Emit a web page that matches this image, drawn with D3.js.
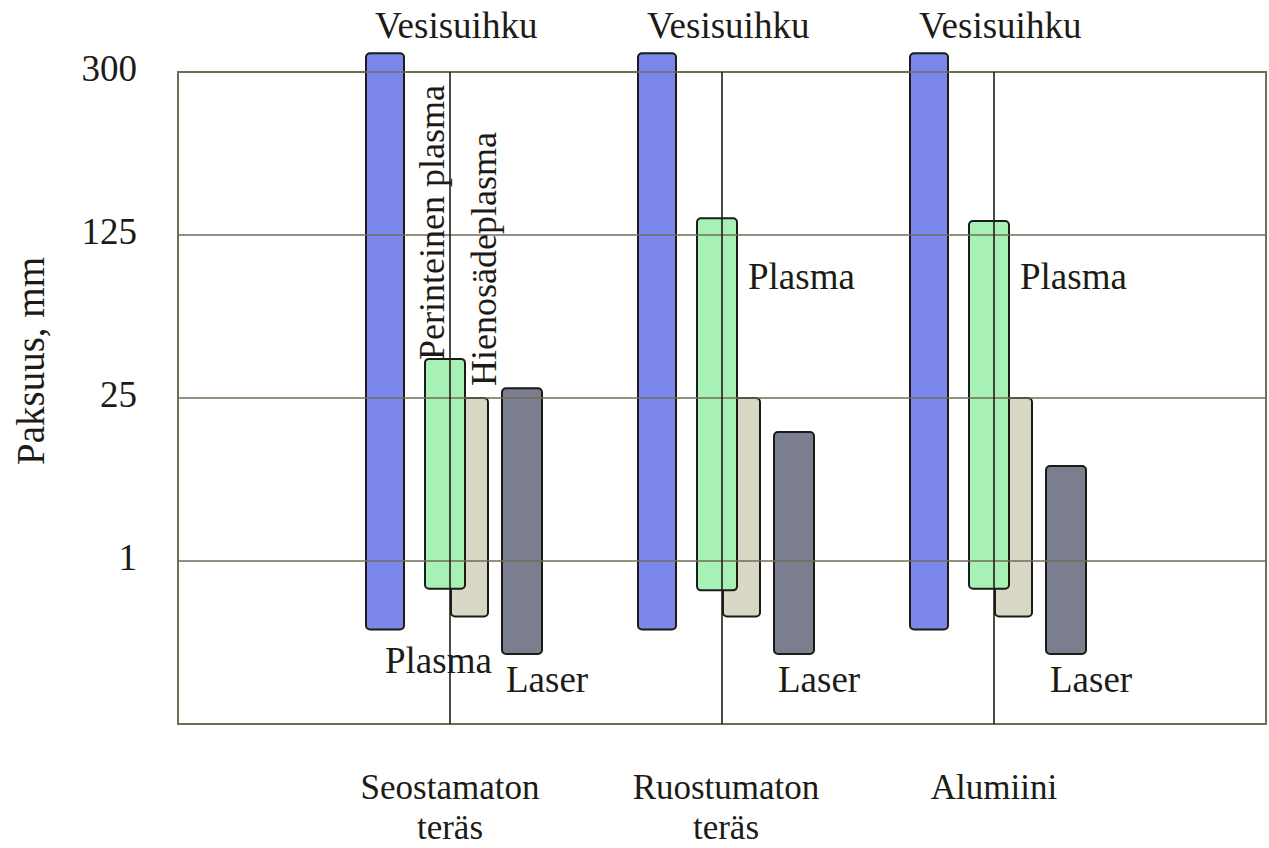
<!DOCTYPE html>
<html>
<head>
<meta charset="utf-8">
<script src="https://cdn.jsdelivr.net/npm/d3@7/dist/d3.min.js"></script>
<style>
  html, body { margin: 0; padding: 0; background: #ffffff; }
  svg { display: block; }
  text { font-family: "Liberation Serif", "DejaVu Serif", serif; fill: #1c1b16; }
</style>
</head>
<body>
<svg id="chart" width="1269" height="848"></svg>
<script>
// ---------------- DATA ----------------
const categories = ["Seostamaton teräs", "Ruostumaton teräs", "Alumiini"];
const categoryLines = [["Seostamaton", "teräs"], ["Ruostumaton", "teräs"], ["Alumiini"]];
const yTickValues = [1, 25, 125, 300];
const yTickLabels = ["1", "25", "125", "300"];

// thickness range (mm) per process and material
const vesisuihkuMin = [0.58, 0.58, 0.58];
const vesisuihkuMax = [320, 320, 320];
const plasmaMin = [0.83, 0.82, 0.83];          // perinteinen plasma
const plasmaMax = [49, 143, 140];
const hienoMin = [0.66, 0.66, 0.66];           // hienosädeplasma
const hienoMax = [25, 25, 25];
const laserMin = [0.43, 0.43, 0.43];
const laserMax = [31, 20, 15];

// ---------------- LAYOUT ----------------
const svg = d3.select("#chart");
const plot = { left: 178, right: 1266, top: 72, bottom: 724 };

const x = d3.scalePoint().domain(categories).range([plot.left, plot.right]).padding(1);
const y = d3.scaleLinear()
  .domain([0, 1, 25, 125, 300])
  .range([plot.bottom, 561, 398, 235, plot.top]);

const series = [
  { key: "vesi", min: vesisuihkuMin, max: vesisuihkuMax, x0: -84, x1: -46, fill: "#7b87ea" },
  { key: "hieno", min: hienoMin, max: hienoMax, x0: 1, x1: 38, fill: "#d9d8c6" },
  { key: "plasma", min: plasmaMin, max: plasmaMax, x0: -25, x1: 15, fill: "#a7f1b6" },
  { key: "laser", min: laserMin, max: laserMax, x0: 52, x1: 92, fill: "#7a7e8e" }
];

const gridColor = "#706c58";

// frame
svg.append("rect")
  .attr("x", plot.left).attr("y", plot.top)
  .attr("width", plot.right - plot.left).attr("height", plot.bottom - plot.top)
  .attr("fill", "none").attr("stroke", gridColor).attr("stroke-width", 2);

// bars
const barsG = svg.append("g");
series.forEach(s => {
  barsG.selectAll(null)
    .data(categories)
    .enter().append("rect")
    .attr("x", (c) => x(c) + s.x0)
    .attr("width", s.x1 - s.x0)
    .attr("y", (c, i) => y(s.max[i]))
    .attr("height", (c, i) => y(s.min[i]) - y(s.max[i]))
    .attr("rx", 4).attr("ry", 4)
    .attr("fill", s.fill)
    .attr("stroke", "#1b1b18")
    .attr("stroke-width", 2);
});

// horizontal gridlines (on top, slightly translucent)
svg.append("g").selectAll("line")
  .data(yTickValues)
  .enter().append("line")
  .attr("x1", plot.left).attr("x2", plot.right)
  .attr("y1", d => y(d)).attr("y2", d => y(d))
  .attr("stroke", gridColor).attr("stroke-width", 2).attr("stroke-opacity", 0.75);

// vertical category lines
svg.append("g").selectAll("line")
  .data(categories)
  .enter().append("line")
  .attr("x1", d => x(d)).attr("x2", d => x(d))
  .attr("y1", plot.top).attr("y2", plot.bottom)
  .attr("stroke", "#1e1d18").attr("stroke-width", 1.6);

// y tick labels
svg.append("g").selectAll("text")
  .data(yTickValues)
  .enter().append("text")
  .attr("x", 137)
  .attr("y", d => y(d) + 9)
  .attr("text-anchor", "end")
  .style("font-size", "37px")
  .text((d, i) => yTickLabels[i]);

// y axis title
svg.append("text")
  .attr("transform", "translate(44,361) rotate(-90)")
  .attr("text-anchor", "middle")
  .style("font-size", "39px")
  .text("Paksuus, mm");

// category labels (one text per line)
categories.forEach((c, i) => {
  categoryLines[i].forEach((line, j) => {
    svg.append("text")
      .attr("text-anchor", "middle")
      .style("font-size", "35px")
      .attr("x", x(c) + (i === 1 ? 4 : 0))
      .attr("y", 799 + j * 40)
      .text(line);
  });
});

// in-plot labels
const fs = "37px";
categories.forEach((c, i) => {
  const cx = x(c);
  svg.append("text").attr("x", cx - 75).attr("y", 38).style("font-size", fs).text("Vesisuihku");
  if (i === 0) {
    svg.append("text").attr("x", cx - 65).attr("y", 673).style("font-size", fs).text("Plasma");
    svg.append("text")
      .attr("transform", `translate(${cx - 6},360) rotate(-90)`)
      .style("font-size", "36px")
      .text("Perinteinen plasma");
    svg.append("text")
      .attr("transform", `translate(${cx + 46},386) rotate(-90)`)
      .style("font-size", "36px")
      .text("Hienosädeplasma");
  } else {
    svg.append("text").attr("x", cx + 26).attr("y", 289).style("font-size", fs).text("Plasma");
  }
  svg.append("text").attr("x", cx + 56).attr("y", 692).style("font-size", fs).text("Laser");
});
</script>
</body>
</html>
